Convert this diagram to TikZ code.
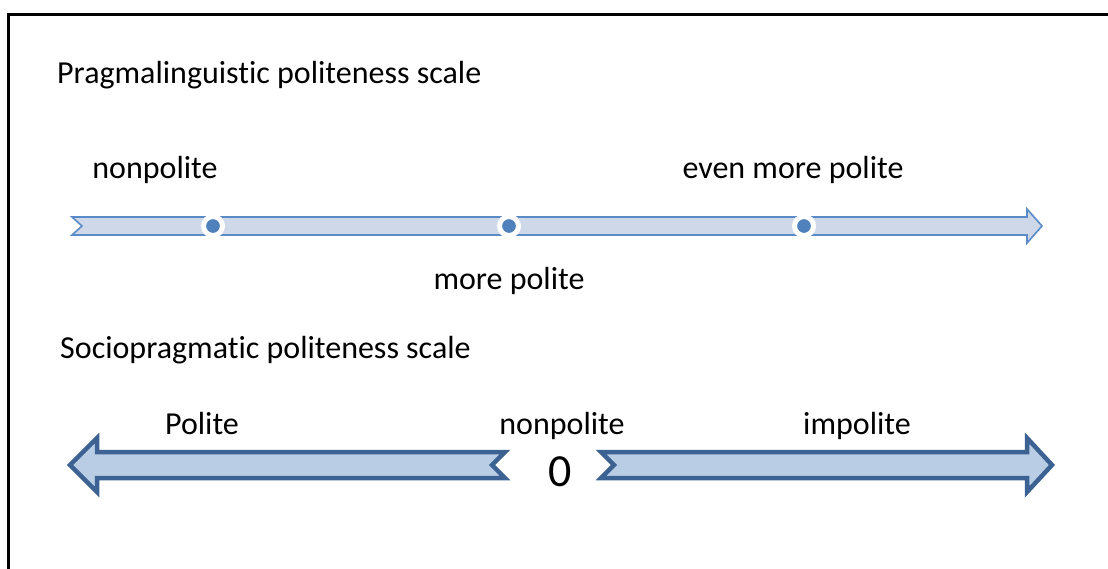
\documentclass[tikz,border=0pt]{standalone}
\usepackage{fontspec}
\setmainfont[Ligatures=NoCommon]{Carlito}
\definecolor{thinfill}{HTML}{CFD8E9}
\definecolor{thinline}{HTML}{5B8BC7}
\definecolor{dotblue}{HTML}{4F81BD}
\definecolor{thickfill}{HTML}{B9CDE5}
\definecolor{thickline}{HTML}{3B6293}
\begin{document}
\begin{tikzpicture}[x=1pt,y=-1pt,
  lbl/.style={inner sep=0pt,anchor=base,font=\fontsize{32}{38}\selectfont},
  thinarrow/.style={fill=thinfill,draw=thinline,line width=1.6pt,line join=miter},
  thickarrow/.style={fill=thickfill,draw=thickline,line width=4.5pt,line join=miter},
  dot/.style={circle,fill=dotblue,draw=white,line width=5pt,minimum size=19pt,inner sep=0pt}]
\useasboundingbox (0,0) rectangle (1108,568);
% frame
\draw[line width=3pt] (8,570) -- (8,14) -- (1110,14);
% titles
\node[lbl,anchor=base west] (t1) at (57,83) {Pragmalinguistic politeness scale};
\node[lbl,anchor=base west] (t2) at (60,358) {Sociopragmatic politeness scale};
% top scale
\draw[thinarrow] (72,217) -- (1027,217) -- (1027,209) -- (1042,226) -- (1027,243) -- (1027,235) -- (72,235) -- (82,226) -- cycle;
\node[dot] (d1) at (213,226) {};
\node[dot] (d2) at (509,226) {};
\node[dot] (d3) at (804,226) {};
\node[lbl] (l1) at (155,178) {nonpolite};
\node[lbl] (l2) at (793,178) {even more polite};
\node[lbl] (l3) at (509,289) {more polite};
% bottom scale
\draw[thickarrow] (70,465) -- (97,438) -- (97,452) -- (505,452) -- (492,465) -- (505,478) -- (97,478) -- (97,492) -- cycle;
\draw[thickarrow] (601,452) -- (1027,452) -- (1027,438) -- (1052,465) -- (1027,492) -- (1027,478) -- (601,478) -- (614,465) -- cycle;
\node[lbl] (b1) at (202,434) {Polite};
\node[lbl] (b2) at (562,434) {nonpolite};
\node[lbl] (b3) at (857,434) {impolite};
\node[inner sep=0pt,anchor=base,font=\fontsize{46}{52}\selectfont] (zero) at (560,486) {0};
\end{tikzpicture}
\end{document}
